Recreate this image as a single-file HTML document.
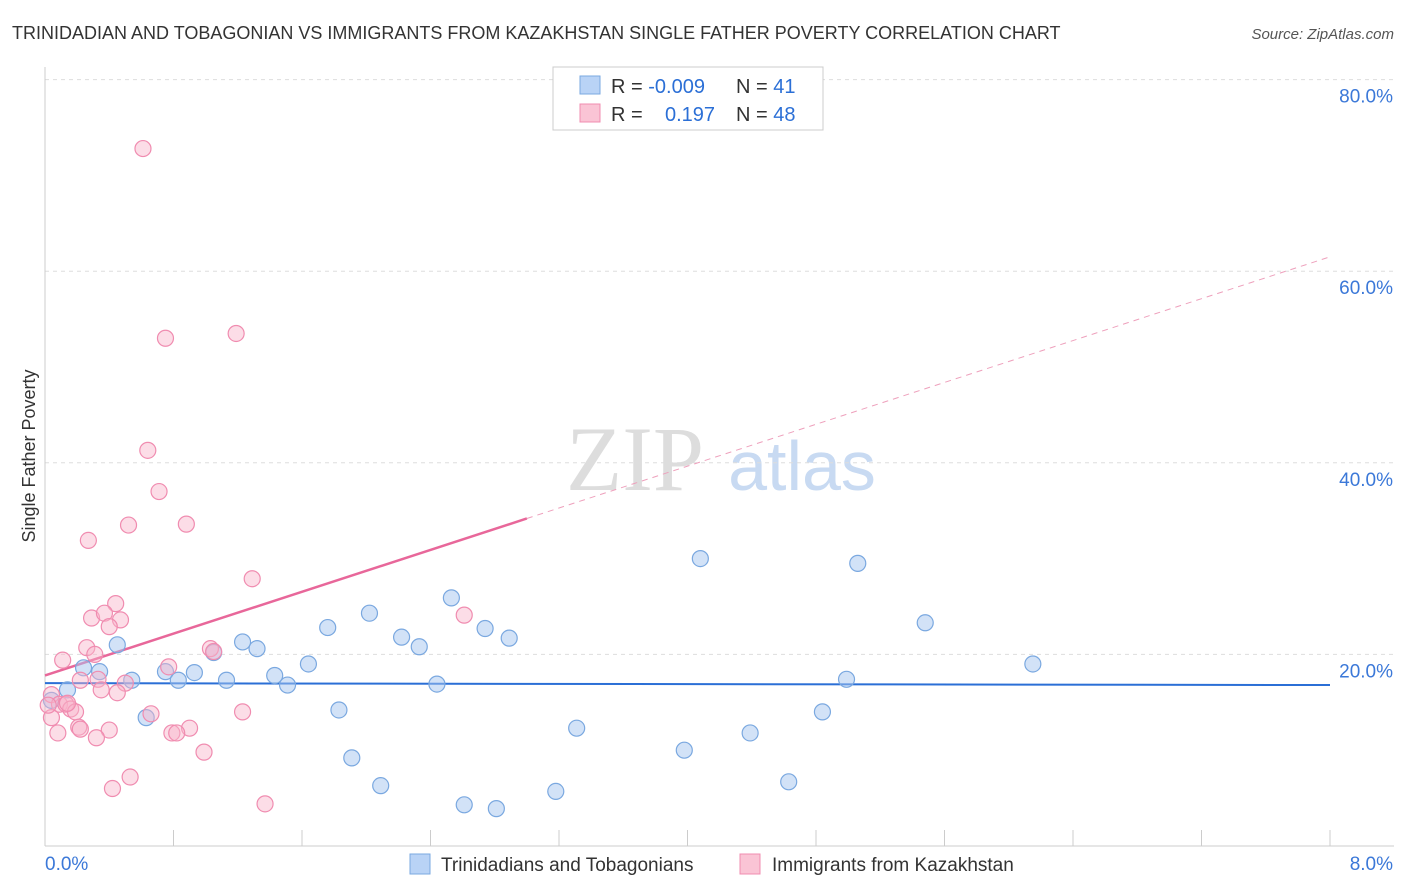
<!DOCTYPE html>
<html><head><meta charset="utf-8"><style>
body{margin:0;background:#fff;font-family:"Liberation Sans",sans-serif;}
#wrap{position:relative;width:1406px;height:892px;overflow:hidden;}
</style></head><body>
<div id="wrap">
<svg id="svg" width="1406" height="892" xmlns="http://www.w3.org/2000/svg">
<text x="12" y="39" font-size="18" fill="#333">TRINIDADIAN AND TOBAGONIAN VS IMMIGRANTS FROM KAZAKHSTAN SINGLE FATHER POVERTY CORRELATION CHART</text>
<text x="1394" y="39" font-size="15" fill="#555" font-style="italic" text-anchor="end">Source: ZipAtlas.com</text>
<text x="35" y="456" font-size="18" fill="#333" text-anchor="middle" transform="rotate(-90 35 456)">Single Father Poverty</text>
<g>
<text x="635" y="490" font-size="92" fill="#ddd" text-anchor="middle" font-family="Liberation Serif,serif">ZIP</text>
<text x="802" y="490" font-size="70" fill="#c8daf2" text-anchor="middle">atlas</text>
</g>
<g id="grid"></g><g id="axes"></g><g id="lines"></g><g id="pts"></g>
<g>
<rect x="553" y="67" width="270" height="63" fill="#fff" stroke="#ccc"/>
<rect x="580" y="76" width="20" height="18" fill="#b9d3f6" stroke="#7aa8e0"/>
<rect x="580" y="104" width="20" height="18" fill="#fac4d5" stroke="#f08cb0"/>
<text x="611" y="93" font-size="20" fill="#333">R = <tspan fill="#2b6fd6">-0.009</tspan></text>
<text x="736" y="93" font-size="20" fill="#333">N = <tspan fill="#2b6fd6"> 41</tspan></text>
<text x="611" y="121" font-size="20" fill="#333">R = <tspan fill="#2b6fd6" x="665">0.197</tspan></text>
<text x="736" y="121" font-size="20" fill="#333">N = <tspan fill="#2b6fd6">48</tspan></text>
</g>
<g>
<rect x="410" y="854" width="20" height="20" fill="#b9d3f6" stroke="#7aa8e0"/>
<text x="441" y="871" font-size="19" fill="#333">Trinidadians and Tobagonians</text>
<rect x="740" y="854" width="20" height="20" fill="#fac4d5" stroke="#f08cb0"/>
<text x="772" y="871" font-size="19" fill="#333">Immigrants from Kazakhstan</text>
</g>
</svg>
</div>
<script>
const blueX=[0.04,0.14,0.24,0.34,0.45,0.54,0.63,0.75,0.83,0.93,1.05,1.13,1.23,1.32,1.43,1.51,1.64,1.76,1.83,1.91,2.02,2.09,2.22,2.33,2.44,2.53,2.61,2.74,2.81,2.89,3.18,3.31,3.98,4.08,4.39,4.63,4.84,4.99,5.06,5.48,6.15];
const blueY=[15.2,16.3,18.6,18.2,21.0,17.3,13.4,18.2,17.3,18.1,20.2,17.3,21.3,20.6,17.8,16.8,19.0,22.8,14.2,9.2,24.3,6.3,21.8,20.8,16.9,25.9,4.3,22.7,3.9,21.7,5.7,12.3,10.0,30.0,11.8,6.7,14.0,17.4,29.5,23.3,19.0];
const pinkX=[0.61,0.75,1.19,0.64,0.71,0.52,0.88,0.27,1.29,0.44,0.29,0.37,0.47,0.40,2.61,0.26,0.31,0.11,0.77,1.03,0.22,0.33,0.50,0.35,0.45,0.04,0.09,0.13,0.16,0.19,0.04,0.21,0.22,0.40,0.66,1.23,0.90,0.79,0.82,0.08,0.32,0.99,0.53,0.42,1.37,0.14,0.02,1.05];
const pinkY=[72.8,53.0,53.5,41.3,37.0,33.5,33.6,31.9,27.9,25.3,23.8,24.3,23.6,22.9,24.1,20.7,20.0,19.4,18.7,20.6,17.3,17.4,17.0,16.3,16.0,15.8,14.8,14.8,14.3,14.0,13.4,12.4,12.2,12.1,13.8,14.0,12.3,11.8,11.8,11.8,11.3,9.8,7.2,6.0,4.4,14.9,14.7,20.3];
const yTicks=[20,40,60,80];
const yTickLabels=["20.0%","40.0%","60.0%","80.0%"];
const blueTrend=[17.0,16.8];
const pinkTrend=[17.8,61.5];
const NS="http://www.w3.org/2000/svg";
const sx=v=>45+v/8*1285, sy=v=>846-v*9.58;
function mk(t,a,p){const e=document.createElementNS(NS,t);for(const k in a)e.setAttribute(k,a[k]);p.appendChild(e);return e;}
const grid=document.getElementById('grid'),axes=document.getElementById('axes'),lines=document.getElementById('lines'),pts=document.getElementById('pts');
yTicks.forEach((t,i)=>{
 const l=mk('line',{x1:45,x2:1394,y1:sy(t),y2:sy(t),stroke:'#ddd','stroke-dasharray':'4,4'},grid);
 
 
 const tx=mk('text',{x:1393,y:sy(t)+23,'font-size':19,fill:'#3b78d8','text-anchor':'end'},axes);
 tx.textContent=yTickLabels[i];
 
 
});
mk('line',{x1:45,x2:45,y1:67,y2:846,stroke:'#ccc'},axes);
mk('line',{x1:45,x2:1394,y1:846,y2:846,stroke:'#ccc'},axes);
for(let i=0;i<=10;i++){const x=sx(i*0.8);const t=mk('line',{x1:x,x2:x,y1:830,y2:846,stroke:'#ccc'},axes);
 
 }
const x0=mk('text',{x:45,y:870,'font-size':19,fill:'#3b78d8'},axes);x0.textContent='0.0%';


const x1=mk('text',{x:1393,y:870,'font-size':19,fill:'#3b78d8','text-anchor':'end'},axes);x1.textContent='8.0%';


const bl=mk('line',{x1:sx(0),y1:sy(blueTrend[0]),x2:sx(8),y2:sy(blueTrend[1]),stroke:'#2b6fd6','stroke-width':2},lines);


const pe=3.0, pm=pinkTrend[0]+(pinkTrend[1]-pinkTrend[0])*pe/8;
const pl=mk('line',{x1:sx(0),y1:sy(pinkTrend[0]),x2:sx(pe),y2:sy(pm),stroke:'#e8679a','stroke-width':2.5},lines);


const pd=mk('line',{x1:sx(pe),y1:sy(pm),x2:sx(8),y2:sy(pinkTrend[1]),stroke:'#eea0bc','stroke-width':1,'stroke-dasharray':'6,5'},lines);


blueX.forEach((x,i)=>{const c=mk('circle',{cx:sx(x),cy:sy(blueY[i]),r:8,fill:'rgba(165,198,240,0.5)',stroke:'#7aa8e0','stroke-width':1.2},pts);
 
 });
pinkX.forEach((x,i)=>{const c=mk('circle',{cx:sx(x),cy:sy(pinkY[i]),r:8,fill:'rgba(248,180,202,0.45)',stroke:'#f08cb0','stroke-width':1.2},pts);
 
 });
</script>
</body></html>
